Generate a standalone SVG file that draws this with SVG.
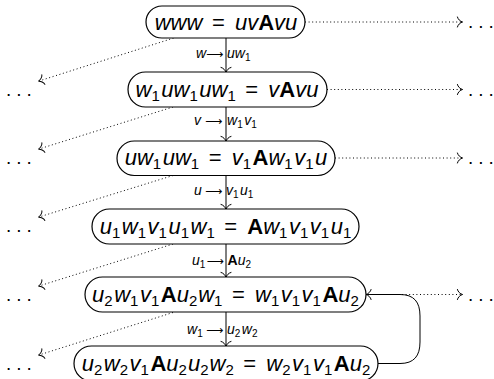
<svg xmlns="http://www.w3.org/2000/svg" width="494" height="379" viewBox="0 0 494 379">
  <defs>
    <style>
      .box{fill:#fff;stroke:#000;stroke-width:1.2}
      .m{font-family:"Liberation Sans",Arial,sans-serif;font-size:22px;font-style:italic;fill:#000;text-anchor:middle}
      .b{font-style:normal;font-weight:bold}
      .eq{font-style:normal;letter-spacing:2px}
      .s{font-size:15px;font-style:normal}
      .lb{font-family:"Liberation Sans",Arial,sans-serif;font-size:14px;font-style:italic;fill:#000}
      .ls{font-size:10px;font-style:normal}
      .ar{font-family:"DejaVu Sans",sans-serif;font-style:normal;font-size:12px}
      .dots{font-family:"Liberation Sans",Arial,sans-serif;font-size:19px;fill:#000}
      .e{fill:none;stroke:#000;stroke-width:1}
      .d{fill:none;stroke:#000;stroke-width:1;stroke-dasharray:1 2.6}
    </style>
    <marker id="to" viewBox="-7 -7 9 14" refX="0" refY="0" markerWidth="9" markerHeight="14" orient="auto" markerUnits="userSpaceOnUse">
      <path d="M-4.6,-5 C-4.3,-3 -1.6,-0.4 0.6,0 C-1.6,0.4 -4.3,3 -4.6,5" fill="none" stroke="#000" stroke-width="1" stroke-linecap="round"/>
    </marker>
  </defs>

  <!-- connectors -->
  <g id="edges">
    <!-- derivation steps -->
    <path class="e" d="M226,38 V72" marker-end="url(#to)"/>
    <path class="e" d="M226,107 V141" marker-end="url(#to)"/>
    <path class="e" d="M226,175 V209" marker-end="url(#to)"/>
    <path class="e" d="M226,244 V277" marker-end="url(#to)"/>
    <path class="e" d="M226,312 V346" marker-end="url(#to)"/>
    <!-- loop back -->
    <path class="e" d="M378,363.5 H400 C414,363.5 420,356 420,342 V316 C420,302 414,294.5 400,294.5 H366.5" marker-end="url(#to)"/>
    <!-- branches to the right -->
    <path class="d" d="M305,22 H462" marker-end="url(#to)"/>
    <path class="d" d="M327,89.5 H462" marker-end="url(#to)"/>
    <path class="d" d="M335,158 H462" marker-end="url(#to)"/>
    <path class="d" d="M366,294.5 H462" marker-end="url(#to)"/>
    <!-- branches to the left -->
    <path class="d" d="M177,37 L39,81" marker-end="url(#to)"/>
    <path class="d" d="M173,107 L39,149" marker-end="url(#to)"/>
    <path class="d" d="M173,175.5 L39,217" marker-end="url(#to)"/>
    <path class="d" d="M173,244 L39,286" marker-end="url(#to)"/>
    <path class="d" d="M173,312.5 L39,355" marker-end="url(#to)"/>
    <!-- step labels -->
    <text class="lb" y="58"><tspan x="196">w</tspan><tspan class="ar" x="206">⟶</tspan><tspan x="227">uw</tspan><tspan class="ls" dy="3">1</tspan></text>
    <text class="lb" y="125"><tspan x="194">v</tspan><tspan class="ar" x="205">⟶</tspan><tspan x="227">w</tspan><tspan class="ls" dy="3">1</tspan><tspan dx="1.5" dy="-3">v</tspan><tspan class="ls" dy="3">1</tspan></text>
    <text class="lb" y="195"><tspan x="194">u</tspan><tspan class="ar" x="205">⟶</tspan><tspan x="226">v</tspan><tspan class="ls" dy="3">1</tspan><tspan dx="1.5" dy="-3">u</tspan><tspan class="ls" dy="3">1</tspan></text>
    <text class="lb" y="265"><tspan x="192">u</tspan><tspan class="ls" dy="3">1</tspan><tspan class="ar" x="206.5" dy="-3">⟶</tspan><tspan class="b" x="227.5">A</tspan>u<tspan class="ls" dy="3">2</tspan></text>
    <text class="lb" y="334"><tspan x="187">w</tspan><tspan class="ls" dy="3">1</tspan><tspan class="ar" x="206" dy="-3">⟶</tspan><tspan x="227">u</tspan><tspan class="ls" dy="3">2</tspan><tspan dx="1.5" dy="-3">w</tspan><tspan class="ls" dy="3">2</tspan></text>
  </g>

  <!-- equations -->
  <g id="n1">
    <rect class="box" x="146" y="6" width="159" height="32" rx="16"/>
    <text class="m" x="226" y="29.5">www<tspan class="eq" dx="1.5"> = </tspan>uv<tspan class="b">A</tspan>vu</text>
  </g>
  <g id="n2">
    <rect class="box" x="128" y="72" width="199" height="35" rx="17.5"/>
    <text class="m" x="227" y="96.5">w<tspan class="s" dy="4">1</tspan><tspan dx="1.5" dy="-4">uw</tspan><tspan class="s" dy="4">1</tspan><tspan dx="1.5" dy="-4">uw</tspan><tspan class="s" dy="4">1</tspan><tspan class="eq" dx="1.5" dy="-4"> = </tspan>v<tspan class="b">A</tspan>vu</text>
  </g>
  <g id="n3">
    <rect class="box" x="117" y="141" width="218" height="34.5" rx="17.25"/>
    <text class="m" x="226" y="165">uw<tspan class="s" dy="4">1</tspan><tspan dx="1.5" dy="-4">uw</tspan><tspan class="s" dy="4">1</tspan><tspan class="eq" dx="1.5" dy="-4"> = </tspan>v<tspan class="s" dy="4">1</tspan><tspan class="b" dx="1.5" dy="-4">A</tspan>w<tspan class="s" dy="4">1</tspan><tspan dx="1.5" dy="-4">v</tspan><tspan class="s" dy="4">1</tspan><tspan dx="1.5" dy="-4">u</tspan></text>
  </g>
  <g id="n4">
    <rect class="box" x="92" y="209" width="267" height="35" rx="17.5"/>
    <text class="m" x="225.5" y="233.5">u<tspan class="s" dy="4">1</tspan><tspan dx="1.5" dy="-4">w</tspan><tspan class="s" dy="4">1</tspan><tspan dx="1.5" dy="-4">v</tspan><tspan class="s" dy="4">1</tspan><tspan dx="1.5" dy="-4">u</tspan><tspan class="s" dy="4">1</tspan><tspan dx="1.5" dy="-4">w</tspan><tspan class="s" dy="4">1</tspan><tspan class="eq" dx="1.5" dy="-4"> = </tspan><tspan class="b">A</tspan>w<tspan class="s" dy="4">1</tspan><tspan dx="1.5" dy="-4">v</tspan><tspan class="s" dy="4">1</tspan><tspan dx="1.5" dy="-4">v</tspan><tspan class="s" dy="4">1</tspan><tspan dx="1.5" dy="-4">u</tspan><tspan class="s" dy="4">1</tspan></text>
  </g>
  <g id="n5">
    <rect class="box" x="85" y="277" width="281" height="35" rx="17.5"/>
    <text class="m" x="225.5" y="301.5">u<tspan class="s" dy="4">2</tspan><tspan dx="1.5" dy="-4">w</tspan><tspan class="s" dy="4">1</tspan><tspan dx="1.5" dy="-4">v</tspan><tspan class="s" dy="4">1</tspan><tspan class="b" dx="1.5" dy="-4">A</tspan>u<tspan class="s" dy="4">2</tspan><tspan dx="1" dy="-4">w</tspan><tspan class="s" dy="4">1</tspan><tspan class="eq" dx="1.5" dy="-4"> = </tspan>w<tspan class="s" dy="4">1</tspan><tspan dx="1.5" dy="-4">v</tspan><tspan class="s" dy="4">1</tspan><tspan dx="1.5" dy="-4">v</tspan><tspan class="s" dy="4">1</tspan><tspan class="b" dx="1.5" dy="-4">A</tspan>u<tspan class="s" dy="4">2</tspan></text>
  </g>
  <g id="n6">
    <rect class="box" x="74" y="346" width="304" height="35" rx="17.5"/>
    <text class="m" x="226" y="370.5">u<tspan class="s" dy="4">2</tspan><tspan dx="1.5" dy="-4">w</tspan><tspan class="s" dy="4">2</tspan><tspan dx="1.5" dy="-4">v</tspan><tspan class="s" dy="4">1</tspan><tspan class="b" dx="1.5" dy="-4">A</tspan>u<tspan class="s" dy="4">2</tspan><tspan dx="1" dy="-4">u</tspan><tspan class="s" dy="4">2</tspan><tspan dx="1" dy="-4">w</tspan><tspan class="s" dy="4">2</tspan><tspan class="eq" dx="1.5" dy="-4"> = </tspan>w<tspan class="s" dy="4">2</tspan><tspan dx="1.5" dy="-4">v</tspan><tspan class="s" dy="4">1</tspan><tspan dx="1.5" dy="-4">v</tspan><tspan class="s" dy="4">1</tspan><tspan class="b" dx="1.5" dy="-4">A</tspan>u<tspan class="s" dy="4">2</tspan></text>
  </g>

  <!-- continuation marks -->
  <g id="more-right">
    <text class="dots" x="468" y="28">.<tspan dx="5">.</tspan><tspan dx="5">.</tspan></text>
    <text class="dots" x="468" y="96">.<tspan dx="5">.</tspan><tspan dx="5">.</tspan></text>
    <text class="dots" x="468" y="164">.<tspan dx="5">.</tspan><tspan dx="5">.</tspan></text>
    <text class="dots" x="468" y="301">.<tspan dx="5">.</tspan><tspan dx="5">.</tspan></text>
  </g>
  <g id="more-left">
    <text class="dots" x="6" y="96">.<tspan dx="5">.</tspan><tspan dx="5">.</tspan></text>
    <text class="dots" x="6" y="164">.<tspan dx="5">.</tspan><tspan dx="5">.</tspan></text>
    <text class="dots" x="6" y="232">.<tspan dx="5">.</tspan><tspan dx="5">.</tspan></text>
    <text class="dots" x="6" y="301">.<tspan dx="5">.</tspan><tspan dx="5">.</tspan></text>
    <text class="dots" x="6" y="370">.<tspan dx="5">.</tspan><tspan dx="5">.</tspan></text>
  </g>
</svg>
